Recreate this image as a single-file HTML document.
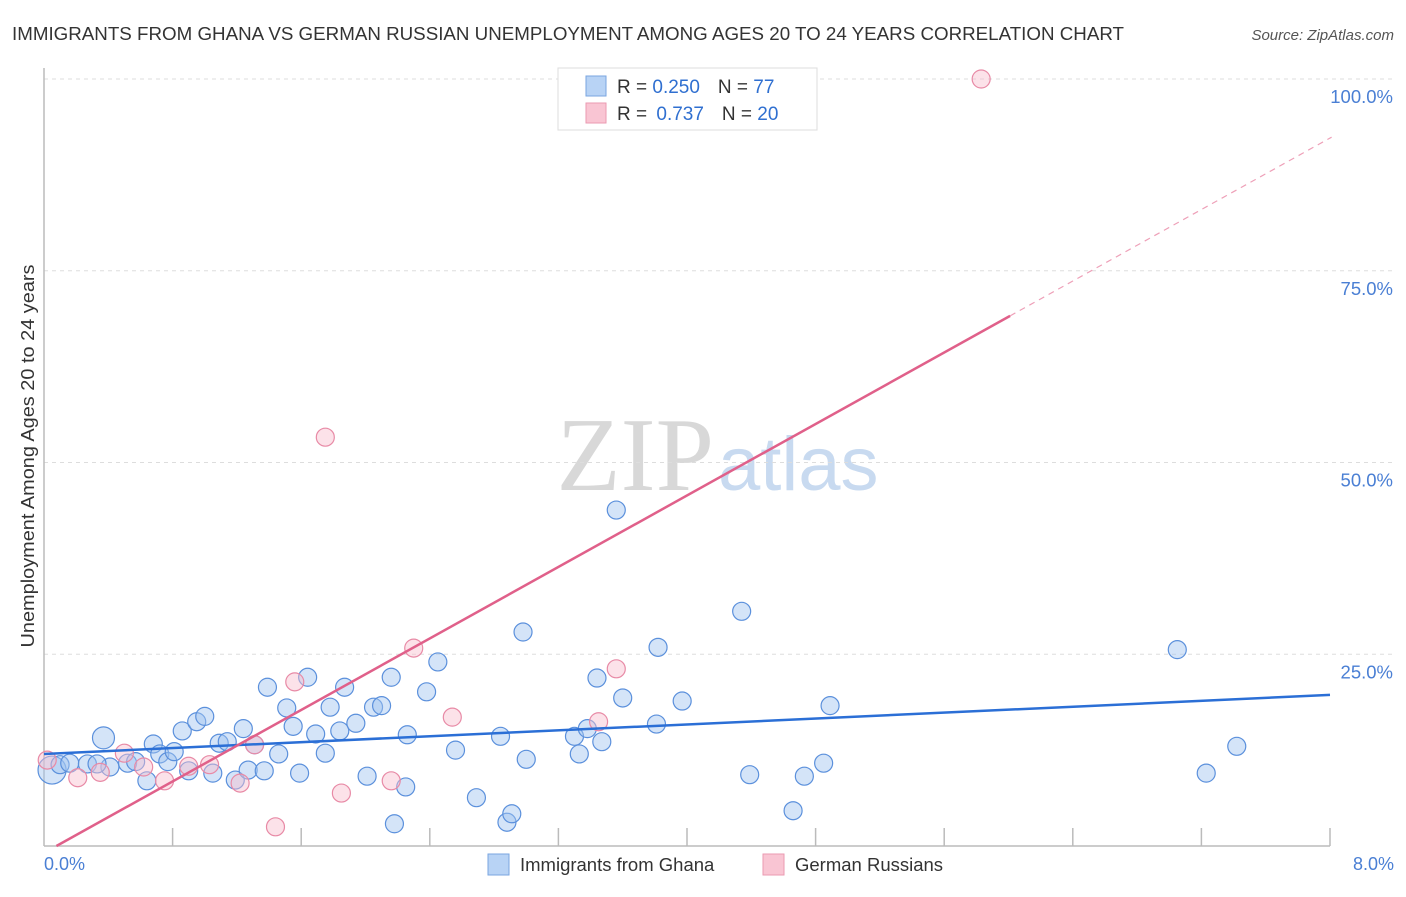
<!DOCTYPE html>
<html><head><meta charset="utf-8"><style>
body{margin:0;background:#fff;font-family:"Liberation Sans",sans-serif}
</style></head><body>
<svg width="1406" height="892" xmlns="http://www.w3.org/2000/svg">
<text x="12" y="40" font-size="18.5" fill="#333" textLength="1112" lengthAdjust="spacingAndGlyphs">IMMIGRANTS FROM GHANA VS GERMAN RUSSIAN UNEMPLOYMENT AMONG AGES 20 TO 24 YEARS CORRELATION CHART</text>
<text x="1394" y="40" font-size="15" fill="#555" font-style="italic" text-anchor="end">Source: ZipAtlas.com</text>
<text x="714" y="490" font-size="105" fill="#d8d8d8" text-anchor="end" font-family="Liberation Serif,serif">ZIP</text>
<text x="718" y="490" font-size="76" fill="#c8daf0">atlas</text>
<g id="grid"></g>
<line x1="44" y1="68" x2="44" y2="846" stroke="#bbb" stroke-width="1.5"/>
<line x1="44" y1="846" x2="1330" y2="846" stroke="#bbb" stroke-width="1.5"/>
<g id="ticks"></g>
<g id="points"></g>
<g id="lines"></g>
<text x="34" y="456" font-size="18" fill="#333" text-anchor="middle" textLength="383" lengthAdjust="spacingAndGlyphs" transform="rotate(-90 34 456)">Unemployment Among Ages 20 to 24 years</text>
<text x="44" y="870" font-size="18" fill="#4a7fd4">0.0%</text>
<text x="1394" y="870" font-size="18" fill="#4a7fd4" text-anchor="end">8.0%</text>
<g>
<rect x="558" y="68" width="259" height="62" fill="#fff" stroke="#ddd"/>
<rect x="586" y="76" width="20" height="20" fill="#b8d3f5" stroke="#7aa6e0"/>
<rect x="586" y="103" width="20" height="20" fill="#f9c5d3" stroke="#eb9ab1"/>
<text x="617" y="93" font-size="19" fill="#333">R = <tspan fill="#2f6fd0">0.250</tspan><tspan dx="18">N = </tspan><tspan fill="#2f6fd0">77</tspan></text>
<text x="617" y="120" font-size="19" fill="#333">R = <tspan fill="#2f6fd0" dx="4">0.737</tspan><tspan dx="18">N = </tspan><tspan fill="#2f6fd0">20</tspan></text>
</g>
<g>
<rect x="488" y="854" width="21" height="21" fill="#b8d3f5" stroke="#7aa6e0"/>
<text x="520" y="871" font-size="18.5" fill="#333">Immigrants from Ghana</text>
<rect x="763" y="854" width="21" height="21" fill="#f9c5d3" stroke="#eb9ab1"/>
<text x="795" y="871" font-size="18.5" fill="#333">German Russians</text>
</g>
</svg>
<script>
const yTicks=[25,50,75,100];
const yTickLabels=["25.0%","50.0%","75.0%","100.0%"];
const xTicks=[0.8,1.6,2.4,3.2,4.0,4.8,5.6,6.4,7.2,8.0];
const ghanaX=[0.05,0.10,0.16,0.27,0.37,0.41,0.52,0.57,0.64,0.68,0.72,0.77,0.81,0.86,0.90,0.95,1.00,1.05,1.09,1.14,1.19,1.24,1.27,1.31,1.37,1.39,1.46,1.51,1.55,1.59,1.64,1.69,1.75,1.78,1.84,1.87,1.94,2.01,2.05,2.10,2.16,2.18,2.25,2.26,2.38,2.45,2.56,2.69,2.84,2.88,2.91,2.98,3.00,3.30,3.33,3.38,3.44,3.47,3.56,3.60,3.81,3.82,3.97,4.34,4.39,4.66,4.73,4.85,4.89,7.05,7.23,7.42,0.33];
const ghanaY=[9.9,10.6,10.8,10.7,14.1,10.3,10.8,11.0,8.5,13.3,12.0,11.0,12.3,15.0,9.8,16.2,16.9,9.5,13.4,13.6,8.6,15.3,9.9,13.2,9.8,20.7,12.0,18.0,15.6,9.5,22.0,14.6,12.1,18.1,15.0,20.7,16.0,9.1,18.1,18.3,22.0,2.9,7.7,14.5,20.1,24.0,12.5,6.3,14.3,3.1,4.2,27.9,11.3,14.3,12.0,15.3,21.9,13.6,43.8,19.3,15.9,25.9,18.9,30.6,9.3,4.6,9.1,10.8,18.3,25.6,9.5,13.0,10.7];
const ghanaSize=[14,9,9,9,11,9,9,9,9,9,9,9,9,9,9,9,9,9,9,9,9,9,9,9,9,9,9,9,9,9,9,9,9,9,9,9,9,9,9,9,9,9,9,9,9,9,9,9,9,9,9,9,9,9,9,9,9,9,9,9,9,9,9,9,9,9,9,9,9,9,9,9,9];
const russX=[5.83,1.75,2.30,3.56,1.56,2.54,3.45,1.31,0.50,0.62,0.90,1.03,0.02,0.21,0.35,0.75,1.22,2.16,1.85,1.44];
const russY=[100,53.3,25.8,23.1,21.4,16.8,16.2,13.2,12.1,10.3,10.4,10.6,11.2,8.9,9.6,8.5,8.2,8.5,6.9,2.5];
const ghanaLine=[12.0,19.7];
const russLine=[-0.9,11.65];
const X=v=>44+v*160.75, Y=v=>846-v*7.67;
const NS="http://www.w3.org/2000/svg";
function mk(t,a,p){const e=document.createElementNS(NS,t);for(const k in a)e.setAttribute(k,a[k]);p.appendChild(e);return e;}
const grid=document.getElementById('grid');
yTicks.forEach((t,i)=>{
 const l=mk('line',{x1:44,x2:1394,y1:Y(t),y2:Y(t),stroke:'#ddd','stroke-dasharray':'4 4'},grid);
 
 
 const tx=mk('text',{x:1393,y:Y(t)+24,'font-size':18.5,fill:'#4a7fd4','text-anchor':'end'},grid);
 tx.textContent=yTickLabels[i];
 
 
});
const ticks=document.getElementById('ticks');
xTicks.forEach(t=>{
 const l=mk('line',{x1:X(t),x2:X(t),y1:828,y2:846,stroke:'#bbb','stroke-width':1.5},ticks);
 
 
});
const pts=document.getElementById('points');
ghanaX.forEach((x,i)=>{
 const c=mk('circle',{cx:X(x),cy:Y(ghanaY[i]),r:ghanaSize[i],fill:'rgba(160,196,240,0.45)',stroke:'#5b90dc','stroke-width':1.2},pts);
 
 
});
russX.forEach((x,i)=>{
 const c=mk('circle',{cx:X(x),cy:Y(russY[i]),r:9,fill:'rgba(248,190,206,0.45)',stroke:'#e88aa6','stroke-width':1.2},pts);
 
 
});
const ln=document.getElementById('lines');
const bl=mk('line',{x1:X(0),y1:Y(ghanaLine[0]),x2:X(8),y2:Y(ghanaLine[1]),stroke:'#2b6fd6','stroke-width':2.5},ln);


const r=x=>russLine[0]+russLine[1]*x;
const x0=-russLine[0]/russLine[1];
const pl=mk('line',{x1:X(x0),y1:Y(0),x2:X(6.01),y2:Y(r(6.01)),stroke:'#e0608a','stroke-width':2.5},ln);


const pd=mk('line',{x1:X(6.01),y1:Y(r(6.01)),x2:X(8.01),y2:Y(r(8.01)),stroke:'#eea0b8','stroke-width':1.2,'stroke-dasharray':'6 5'},ln);


</script>
</body></html>
